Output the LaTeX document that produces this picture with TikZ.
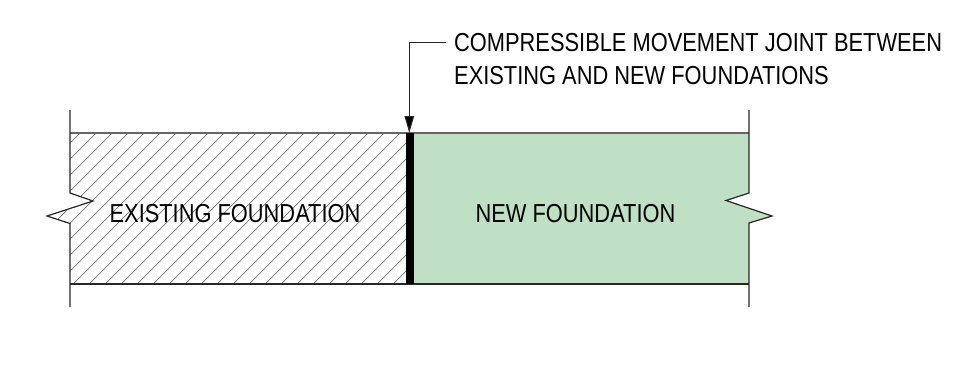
\documentclass[tikz,border=0pt]{standalone}
\usepackage{fontspec}
\newfontfamily\labelfont[FakeStretch=0.84]{Liberation Sans}
\usetikzlibrary{arrows.meta}
\definecolor{newgreen}{HTML}{BFE0C4}
\tikzset{
  x=1pt,y=-1pt,
  outline/.style={draw=black!85,line width=1.2pt,line join=miter},
  edge/.style={draw=black!60,line width=1.2pt},
  hatchline/.style={draw=black!55,line width=0.7pt},
  lbl/.style={font=\labelfont\fontsize{26}{33}\selectfont,text=black,inner sep=0pt},
  leader/.style={draw=black!85,line width=1.2pt},
  tip/.style={-{Triangle[length=17pt,width=9.5pt,fill=black]}}
}
\begin{document}
\begin{tikzpicture}
\useasboundingbox (0,0) rectangle (958,365);
% new foundation fill
\fill[newgreen] (414,133) -- (749,133) -- (749,193) -- (726,200.5) -- (772,216) -- (749,223) -- (749,284) -- (414,284) -- cycle;
% existing foundation hatch
\begin{scope}
\clip (70,133) -- (406,133) -- (406,284) -- (70,284) -- (70,223.5) -- (47,216) -- (93,201) -- (70,193) -- cycle;
\foreach \i in {0,...,30} {
  \draw[hatchline] ({\i*16-87},300) -- ++(190,-190);
}
\end{scope}
% outline
\draw[edge] (70,133) -- (749,133);
\draw[outline] (70,284) -- (749,284);
\draw[outline] (70,110) -- (70,193) -- (93,201) -- (47,216) -- (70,223.5) -- (70,307);
\draw[outline] (749,110) -- (749,193) -- (726,200.5) -- (772,216) -- (749,223) -- (749,307);
% joint
\fill[black] (406,133) rectangle (414,284);
% labels
\node[lbl] (existing) at (235,214) {EXISTING FOUNDATION};
\node[lbl] (newf) at (575.5,214) {NEW FOUNDATION};
\node[lbl,anchor=west,align=left] (note) at (454,59.5) {COMPRESSIBLE MOVEMENT JOINT BETWEEN\\EXISTING AND NEW FOUNDATIONS};
% leader
\coordinate (leaderstart) at (446,42.7);
\coordinate (leaderbend) at (409.3,42.7);
\coordinate (jointtop) at (409.3,133);
\draw[leader,tip] (leaderstart) -- (leaderbend) -- (jointtop);
\end{tikzpicture}
\end{document}
